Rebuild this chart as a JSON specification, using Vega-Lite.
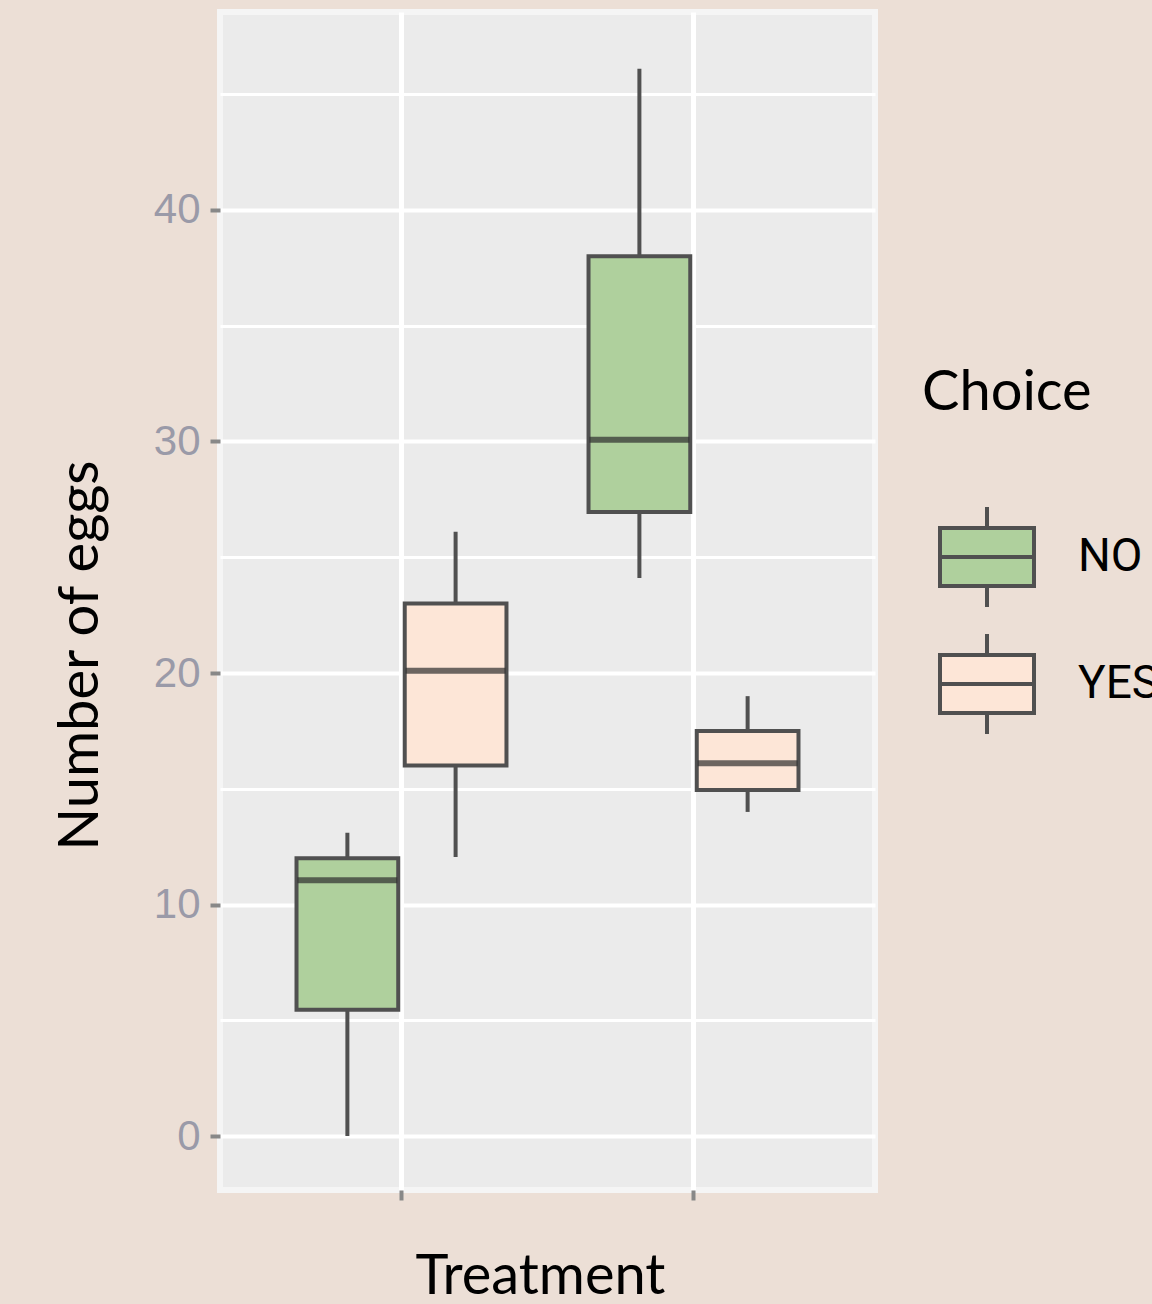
{
  "$schema": "https://vega.github.io/schema/vega-lite/v6.json",
  "width": 655,
  "height": 1178,
  "autosize": {"type": "none"},
  "padding": {"left": 220, "top": 12, "right": 277, "bottom": 114},
  "background": "#ecdfd6",
  "config": {
    "view": {"fill": "#ebebeb", "stroke": "#f5f5f5", "strokeWidth": 6},
    "font": "Lato"
  },
  "data": {
    "values": [
      {"treatment": "Treatment 1", "choice": "NO", "lower": 0, "q1": 5.45, "median": 11.05, "q3": 12.0, "upper": 13.1},
      {"treatment": "Treatment 1", "choice": "YES", "lower": 12.05, "q1": 16.0, "median": 20.1, "q3": 23.0, "upper": 26.1},
      {"treatment": "Treatment 2", "choice": "NO", "lower": 24.1, "q1": 26.95, "median": 30.07, "q3": 38.0, "upper": 46.1},
      {"treatment": "Treatment 2", "choice": "YES", "lower": 14.0, "q1": 14.95, "median": 16.1, "q3": 17.5, "upper": 19.0}
    ]
  },
  "encoding": {
    "x": {
      "field": "treatment",
      "type": "nominal",
      "scale": {"paddingInner": 0.281, "paddingOuter": 0.262},
      "axis": {
        "title": "Treatment",
        "titleFont": "Lato",
        "titleFontSize": 56,
        "titleFontWeight": "normal",
        "titleColor": "#000000",
        "titleX": 320,
        "titleY": 103,
        "titleAlign": "center",
        "titleBaseline": "alphabetic",
        "labels": false,
        "domain": false,
        "ticks": true,
        "tickSize": 10,
        "tickWidth": 4,
        "tickColor": "#888888",
        "bandPosition": 0.5,
        "grid": true,
        "gridColor": "#ffffff",
        "gridWidth": 5
      }
    },
    "xOffset": {
      "field": "choice",
      "type": "nominal",
      "scale": {"paddingInner": 0.06, "paddingOuter": 0}
    }
  },
  "layer": [
    {
      "mark": {"type": "rule", "color": "#505050", "strokeWidth": 4},
      "encoding": {
        "y": {
          "field": "lower",
          "type": "quantitative",
          "scale": {"domain": [-2.33, 48.55], "nice": false, "zero": false},
          "axis": {
            "title": "Number of eggs",
            "titleFont": "Lato",
            "titleFontSize": 56,
            "titleFontWeight": "normal",
            "titleColor": "#000000",
            "titleAngle": 270,
            "titleX": -123,
            "titleY": 643,
            "titleAlign": "center",
            "titleBaseline": "alphabetic",
            "values": [0, 5, 10, 15, 20, 25, 30, 35, 40, 45],
            "labelExpr": "datum.value % 10 === 0 ? datum.label : ''",
            "labelFont": "Liberation Sans",
            "labelFontSize": 42,
            "labelColor": "#9a9aa8",
            "labelPadding": 10,
            "domain": false,
            "tickSize": 10,
            "tickWidth": 4,
            "tickColor": "#888888",
            "tickOpacity": {"condition": {"test": "datum.value % 10 === 0", "value": 1}, "value": 0},
            "grid": true,
            "gridColor": "#ffffff",
            "gridWidth": {"condition": {"test": "datum.value % 10 === 0", "value": 4}, "value": 3}
          }
        },
        "y2": {"field": "upper"}
      }
    },
    {
      "mark": {"type": "bar", "stroke": "#505050", "strokeWidth": 4},
      "encoding": {
        "y": {"field": "q1", "type": "quantitative"},
        "y2": {"field": "q3"},
        "fill": {
          "field": "choice",
          "type": "nominal",
          "scale": {"domain": ["NO", "YES"], "range": ["#afd09d", "#fde6d7"]},
          "legend": {
            "title": "Choice",
            "orient": "none",
            "legendX": 702,
            "legendY": 354,
            "titleFont": "Lato",
            "titleFontSize": 56,
            "titleFontWeight": "normal",
            "titleColor": "#000000",
            "titleBaseline": "top",
            "titlePadding": 83,
            "labelFont": "Roboto",
            "labelFontSize": 46,
            "labelColor": "#000000",
            "labelOffset": 52,
            "rowPadding": 11,
            "symbolType": "M-0.68,-0.58H1.2V0.58H-0.68Z M-0.68,0H1.2 M0.26,-0.58V-1 M0.26,0.58V1",
            "symbolSize": 10000,
            "symbolStrokeColor": "#505050",
            "symbolStrokeWidth": 4,
            "symbolOpacity": 1
          }
        }
      }
    },
    {
      "mark": {"type": "tick", "color": "#2e2e2e", "thickness": 6, "size": 100},
      "encoding": {
        "y": {"field": "median", "type": "quantitative"}
      }
    }
  ]
}
